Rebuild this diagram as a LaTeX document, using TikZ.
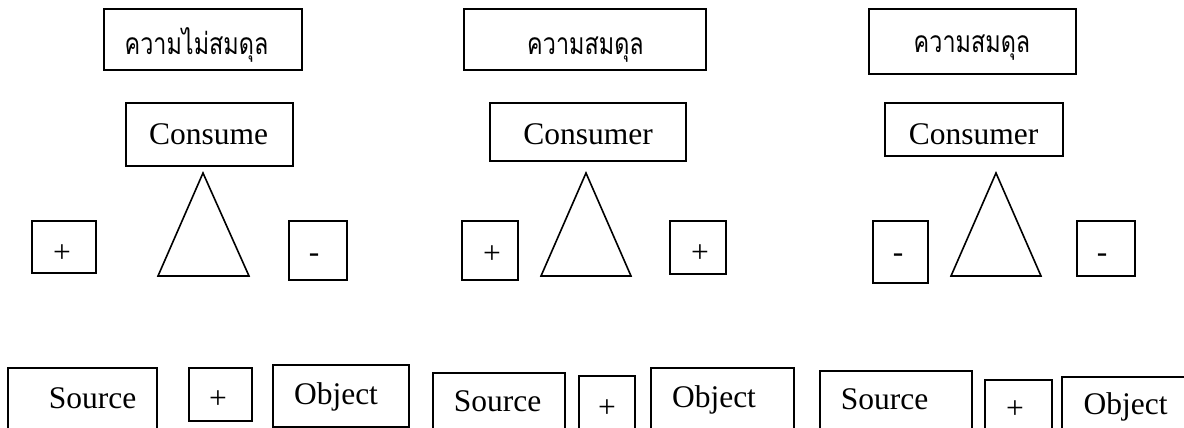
\documentclass[tikz,border=0pt]{standalone}
\usepackage{fontspec}
\setmainfont{Liberation Serif}
\newfontfamily\thai[Script=Thai,FakeStretch=0.78]{Loma}
\tikzset{
  box/.style={draw, line width=1.6pt, rectangle, inner sep=0pt},
  lbl/.style={anchor=base, inner sep=0pt, font=\fontsize{31.5}{36}\selectfont},
  thl/.style={anchor=base, inner sep=0pt, font=\thai\fontsize{30}{34}\selectfont},
  tri/.style={draw, line width=1.6pt, line join=miter}
}
\newcommand\mkbox[5]{\node[box,minimum width={(#4-#2)*1pt},minimum height={(#5-#3)*1pt}] (#1) at ({(#2+#4)/2},{(#3+#5)/2}) {};}
\begin{document}
\begin{tikzpicture}[x=1pt,y=-1pt]
\useasboundingbox (0,0) rectangle (1184,428);
\clip (0,0) rectangle (1184,428);
% column 1
\mkbox{t1}{104}{9}{302}{70}
\node[thl] (t1x) at (196.5,55) {ความไม่สมดุล};
\mkbox{c1}{126}{103}{293}{166}
\node[lbl] (c1x) at (208.5,144) {Consume};
\coordinate (a1) at (203,173); \coordinate (l1) at (158,276); \coordinate (r1) at (249,276);
\draw[tri] (a1) -- (l1) -- (r1) -- cycle;
\mkbox{p1}{32}{221}{96}{273}
\node[lbl] (p1x) at (62,262) {+};
\mkbox{m1}{289}{221}{347}{280}
\node[lbl] (m1x) at (314,262) {-};
\mkbox{s1}{8}{368}{157}{440}
\node[lbl] (s1x) at (92.5,408) {Source};
\mkbox{q1}{189}{368}{252}{421}
\node[lbl] (q1x) at (218,408) {+};
\mkbox{o1}{273}{365}{409}{427}
\node[lbl] (o1x) at (336,404) {Object};
% column 2
\mkbox{t2}{464}{9}{706}{70}
\node[thl] (t2x) at (585.5,55) {ความสมดุล};
\mkbox{c2}{490}{103}{686}{161}
\node[lbl] (c2x) at (588,144) {Consumer};
\coordinate (a2) at (586,173); \coordinate (l2) at (541,276); \coordinate (r2) at (631,276);
\draw[tri] (a2) -- (l2) -- (r2) -- cycle;
\mkbox{p2}{462}{221}{518}{280}
\node[lbl] (p2x) at (492,263) {+};
\mkbox{p3}{670}{221}{726}{274}
\node[lbl] (p3x) at (700,262) {+};
\mkbox{s2}{433}{373}{565}{440}
\node[lbl] (s2x) at (497.5,411) {Source};
\mkbox{q2}{579}{376}{635}{440}
\node[lbl] (q2x) at (607,417) {+};
\mkbox{o2}{651}{368}{794}{440}
\node[lbl] (o2x) at (714,407) {Object};
% column 3
\mkbox{t3}{869}{9}{1076}{74}
\node[thl] (t3x) at (972,53) {ความสมดุล};
\mkbox{c3}{885}{103}{1063}{156}
\node[lbl] (c3x) at (973.5,144) {Consumer};
\coordinate (a3) at (996,173); \coordinate (l3) at (951,276); \coordinate (r3) at (1041,276);
\draw[tri] (a3) -- (l3) -- (r3) -- cycle;
\mkbox{m2}{873}{221}{928}{283}
\node[lbl] (m2x) at (898,262) {-};
\mkbox{m3}{1077}{221}{1135}{276}
\node[lbl] (m3x) at (1102,262) {-};
\mkbox{s3}{820}{371}{972}{440}
\node[lbl] (s3x) at (884.5,409) {Source};
\mkbox{q3}{985}{380}{1052}{440}
\node[lbl] (q3x) at (1015,418) {+};
\mkbox{o3}{1062}{377}{1200}{440}
\node[lbl] (o3x) at (1125.5,414) {Object};
\end{tikzpicture}
\end{document}
